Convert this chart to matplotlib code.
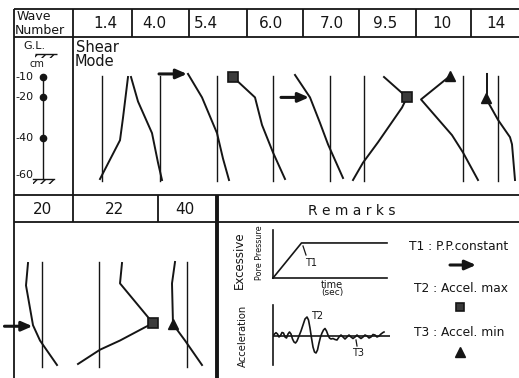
import matplotlib
matplotlib.use("Agg")
import matplotlib.pyplot as plt
from matplotlib.patches import Rectangle
import numpy as np

W, H = 519, 378
INK = "#151515"

# ---------------------------------------------------------------------------
# Data
# ---------------------------------------------------------------------------
top_waves = ["1.4", "4.0", "5.4", "6.0", "7.0", "9.5", "10", "14"]
bottom_waves = ["20", "22", "40"]

sensor_depths = [-10, -20, -40]
depth_labels = ["-10", "-20", "-40", "-60"]
depth_label_pos = [-10, -20, -40, -58]

# shear mode shapes: depth (cm) vs lateral displacement (rest line = 0)
depth_1_4 = [-10, -30, -41, -60]
disp_1_4 = [26, 21, 18, -2]
depth_4_0 = [-10, -22, -37.5, -52, -60.5]
disp_4_0 = [-29, -22, -8, -2, 2]
depth_5_4 = [-8.5, -20, -37.5, -50, -60.5]
disp_5_4 = [-29, -15, 0, 6, 12]
depth_6_0 = [-10, -20, -33.5, -47, -60]
disp_6_0 = [-40, -18, -11, 0, 12]
depth_7_0 = [-9, -20, -32.5, -43, -59.5]
disp_7_0 = [-35, -20, -10, -2, 13]
depth_9_5 = [-10, -20, -25, -42, -52, -60.5]
disp_9_5 = [20, 43, 38, 14, -1, -11]
depth_10 = [-9.5, -21, -38.5, -47, -60.5]
disp_10 = [-13, -42, -11, 0, 15]
depth_14 = [-8.5, -18, -20.5, -31, -39.5, -43, -60.5]
disp_14 = [-11, -11, -12, 0, 12, 14, 17]
depth_20 = [-10, -21, -40.5, -48, -60]
disp_20 = [-14, -16, -9, -2, 15]
depth_22 = [-10, -20, -39.5, -41.5, -48, -52.5, -59.5]
disp_22 = [23, 21, 54, 46, 21, 1, -21]
depth_40 = [-9.5, -20, -40, -48, -60]
disp_40 = [-12, -15, -14, -2, 15]

top_depths = [depth_1_4, depth_4_0, depth_5_4, depth_6_0, depth_7_0, depth_9_5, depth_10, depth_14]
top_disps = [disp_1_4, disp_4_0, disp_5_4, disp_6_0, disp_7_0, disp_9_5, disp_10, disp_14]
bottom_depths = [depth_20, depth_22, depth_40]
bottom_disps = [disp_20, disp_22, disp_40]

# events: T1 arrow (depth in cm), T2 square / T3 triangle (index of point)
t1_depth = {"5.4": -8.5, "7.0": -20, "20": -41}
t2_point = {"6.0": 0, "9.5": 1, "22": 2}
t3_point = {"10": 0, "14": 2, "40": 2}

# remarks sketches
pp_time = [0, 1, 4]
pp_value = [0, 1, 1]
acc_time = [0, 1.5, 3, 4.5, 6, 7.5, 9, 10.5, 12, 13.5, 15, 16.5, 18, 19.5, 21,
            22.5, 24, 26, 28, 30, 32, 34, 35.5, 37, 38.5, 40, 41.5, 43, 44.5,
            46, 47.5, 49, 50.5, 52, 53.5, 55, 56.5, 58, 60, 62, 64, 66, 68, 70,
            72, 74, 76, 78, 80, 82, 84, 86, 88, 90, 92, 94, 96, 98, 100, 102,
            104, 106, 108, 110, 111]
acc_value = [0, 2, 3.3, 2, -1, 0.5, 3.5, 3, -1, -2, 2, 4, 2, -3, -6,
             -7, -5, 0, 5, 11, 17, 19, 16, 8, -2, -11, -16, -17, -14,
             -7, -1, 3, 6, 7.5, 5, 1, -2, -3, -2.5, -3.5, -4, -1, 1, -1,
             -3, -1, 1, -1, -2.5, -1, 1, -1, -2.5, -1, 1, 0, -2, -1, 1.5, 1,
             -1, 0, 2, 3.5, 4]

# ---------------------------------------------------------------------------
# Layout (pixels of the 519x378 sheet)
# ---------------------------------------------------------------------------
top_rest_x = [102, 160, 217, 273, 330, 364, 463, 498]
bottom_rest_x = [42, 99, 187]
top_label_x = [105, 154, 206, 271, 332, 385, 442, 496]
bottom_label_x = [43, 115, 185]
top_row_y10 = 77      # pixel row of -10 cm in the upper panel
bottom_row_y10 = 263  # same for the lower panel
PX_PER_CM = 2.04

fig = plt.figure(figsize=(W / 100, H / 100), dpi=100)
bg = fig.add_axes([0, 0, 1, 1])
bg.set_xlim(0, W)
bg.set_ylim(H, 0)
bg.axis("off")


def hline(y, x0, x1, lw=1.3):
    bg.plot([x0, x1], [y, y], color=INK, lw=lw, solid_capstyle="butt")


def vline(x, y0, y1, lw=1.3):
    bg.plot([x, x], [y0, y1], color=INK, lw=lw, solid_capstyle="butt")


# table frame
for y in [9, 37, 195, 222]:
    hline(y, 14, W)
vline(14, 9, H)
vline(73, 9, 222)
for x in [132, 189, 247, 303, 359, 416, 471]:
    vline(x, 9, 37)
vline(158, 195, 222)
vline(217, 195, H, lw=2.8)

# header texts
bg.text(17, 16, "Wave", fontsize=9, ha="left", va="center", color=INK)
bg.text(15, 31, "Number", fontsize=9, ha="left", va="center", color=INK)
for lab, x in zip(top_waves, top_label_x):
    bg.text(x, 23, lab, fontsize=11, ha="center", va="center", color=INK)
for lab, x in zip(bottom_waves, bottom_label_x):
    bg.text(x, 209, lab, fontsize=11, ha="center", va="center", color=INK)
bg.text(352, 211, "R e m a r k s", fontsize=10, ha="center", va="center", color=INK)
bg.text(76, 47, "Shear", fontsize=10.5, ha="left", va="center", color=INK)
bg.text(75, 62, "Mode", fontsize=10.5, ha="left", va="center", color=INK)

# ground level symbol
bg.text(34, 46, "G.L.", fontsize=8, ha="center", va="center", color=INK)
hline(54, 35, 57, lw=1.0)
bg.add_patch(Rectangle((35, 54), 22, 4, facecolor="none", edgecolor=INK,
                       lw=0, hatch="////"))
bg.text(37, 64, "cm", fontsize=7, ha="center", va="center", color=INK)


def mode_axes(x_rest, y10):
    y0, y1 = y10 - 20, y10 + 113
    ax = fig.add_axes([(x_rest - 60) / W, 1 - y1 / H, 120 / W, (y1 - y0) / H])
    ax.set_xlim(-60, 60)
    ax.set_ylim(-10 - (y1 - y10) / PX_PER_CM, -10 + (y10 - y0) / PX_PER_CM)
    ax.axis("off")
    ax.patch.set_alpha(0)
    return ax


# depth scale
sc = mode_axes(43, top_row_y10)
sc.plot([0, 0], [-10, -60], color=INK, lw=1.0)
sc.plot([0] * len(sensor_depths), sensor_depths, "o", ms=4.5, color=INK)
for lab, d in zip(depth_labels, depth_label_pos):
    sc.text(-28, d, lab, fontsize=8, ha="left", va="center", color=INK)
sc.plot([-10, 11], [-60, -60], color=INK, lw=1.0)
sc.add_patch(Rectangle((-10, -62.5), 21, 2.5, facecolor="none", edgecolor=INK,
                       lw=0, hatch="////"))


def draw_mode(wave, depth, disp, x_rest, y10):
    ax = mode_axes(x_rest, y10)
    ax.plot([0, 0], [-9.5, -61], color=INK, lw=1.0, clip_on=False)
    ax.plot(disp, depth, color=INK, lw=1.4, solid_joinstyle="round", clip_on=False)
    if wave in t2_point:
        i = t2_point[wave]
        ax.plot(disp[i], depth[i], marker="s", ms=6.5, mfc="#3a3a3a", mec=INK,
                mew=1.2, clip_on=False)
    if wave in t3_point:
        i = t3_point[wave]
        ax.plot(disp[i], depth[i], marker="^", ms=7, color=INK, clip_on=False)
    if wave in t1_depth:
        d = t1_depth[wave]
        xc = np.interp(d, depth[::-1], disp[::-1])
        ax.annotate("", xy=(xc - 1, d), xytext=(xc - 29, d),
                    arrowprops=dict(arrowstyle="-|>,head_length=0.8,head_width=0.35",
                                    lw=2.2, color=INK, shrinkA=0, shrinkB=0,
                                    mutation_scale=8),
                    annotation_clip=False)


for wave, dep, dis, xr in zip(top_waves, top_depths, top_disps, top_rest_x):
    draw_mode(wave, dep, dis, xr, top_row_y10)
for wave, dep, dis, xr in zip(bottom_waves, bottom_depths, bottom_disps, bottom_rest_x):
    draw_mode(wave, dep, dis, xr, bottom_row_y10)

# remarks: pore pressure sketch
pp = fig.add_axes([273 / W, 1 - 278 / H, 114 / W, 48 / H])
pp.plot(pp_time, pp_value, color=INK, lw=1.2, clip_on=False)
pp.set_xlim(0, 4)
pp.set_ylim(0, 1.37)
for s in ["top", "right"]:
    pp.spines[s].set_visible(False)
for s in ["left", "bottom"]:
    pp.spines[s].set_color(INK)
    pp.spines[s].set_linewidth(1.2)
pp.set_xticks([])
pp.set_yticks([])
pp.patch.set_alpha(0)

# remarks: acceleration sketch
ac = fig.add_axes([273 / W, 1 - 365 / H, 117 / W, 60 / H])
ac.plot(acc_time, acc_value, color=INK, lw=1.2, solid_joinstyle="round")
ac.axhline(0, color=INK, lw=1.2)
ac.set_xlim(0, 117)
ac.set_ylim(-29, 31)
for s in ["top", "right", "bottom"]:
    ac.spines[s].set_visible(False)
ac.spines["left"].set_color(INK)
ac.spines["left"].set_linewidth(1.2)
ac.set_xticks([])
ac.set_yticks([])
ac.patch.set_alpha(0)

bg.text(239, 260, "Excessive", fontsize=8.5, rotation=90, ha="center", va="center", color=INK)
bg.text(259, 253, "Pore Pressure", fontsize=5.8, rotation=90, ha="center", va="center", color=INK)
bg.text(243, 336, "Acceleration", fontsize=7.2, rotation=90, ha="center", va="center", color=INK)
bg.text(332, 285, "time", fontsize=7, ha="center", va="center", color=INK)
bg.text(332, 293, "(sec)", fontsize=6.5, ha="center", va="center", color=INK)
bg.plot([303, 306], [246, 255], color=INK, lw=0.9)
bg.text(311, 263, "T1", fontsize=7, ha="center", va="center", color=INK)
bg.text(317, 316, "T2", fontsize=7, ha="center", va="center", color=INK)
bg.plot([356, 357], [340, 346], color=INK, lw=0.9)
bg.text(358, 353, "T3", fontsize=7, ha="center", va="center", color=INK)

# remarks legend
bg.text(409, 246, "T1 : P.P.constant", fontsize=8.8, ha="left", va="center", color=INK)
bg.annotate("", xy=(476, 265), xytext=(450, 265),
            arrowprops=dict(arrowstyle="-|>,head_length=0.8,head_width=0.35",
                            lw=2.2, color=INK, shrinkA=0, shrinkB=0, mutation_scale=8))
bg.text(414, 289, "T2 : Accel. max", fontsize=8.8, ha="left", va="center", color=INK)
bg.plot(460, 307, marker="s", ms=6, mfc="#3a3a3a", mec=INK, mew=1.2)
bg.text(414, 332, "T3 : Accel. min", fontsize=8.8, ha="left", va="center", color=INK)
bg.plot(460, 352, marker="^", ms=7, color=INK)

fig.savefig("out.png", dpi=100)
